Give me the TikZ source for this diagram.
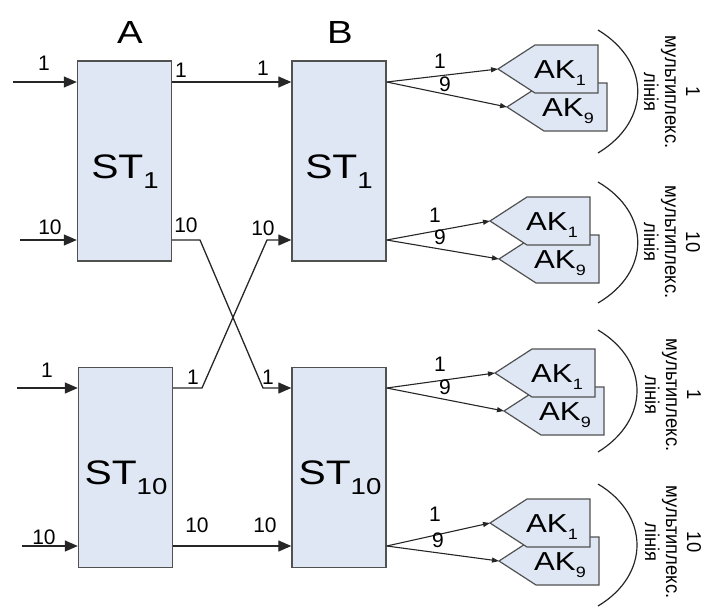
\documentclass[tikz,border=0pt]{standalone}
\usepackage{fontspec}
\setmainfont{Liberation Sans}
\newfontfamily\widesans[FakeStretch=1.2]{Liberation Sans}
\newfontfamily\narrowsans[FakeStretch=0.92]{Liberation Sans}
\usepackage{graphicx}
\usetikzlibrary{arrows.meta,calc}
\definecolor{panel}{RGB}{222,231,243}
\definecolor{ink}{RGB}{38,38,38}
% lowered index in a given size
\newcommand\lowidx[2]{\raisebox{-0.3em}{\fontsize{#1}{#1}\selectfont #2}}

\begin{document}
\begin{tikzpicture}[x=1pt,y=-1pt,
  stbox/.style={draw=ink!80, fill=panel, line width=1.4pt, minimum width=94pt, minimum height=200pt, inner sep=0pt},
  wire/.style={draw=ink, line width=1.3pt},
  feed/.style={wire, -{Triangle[length=13pt,width=11pt]}},
  tap/.style={wire, line width=1.1pt, -{Triangle[length=7pt,width=5pt]}},
  num/.style={font=\fontsize{21}{21}\selectfont, inner sep=0pt},
  head/.style={font=\widesans\fontsize{32}{32}\selectfont, inner sep=0pt},
  sttext/.style={font=\widesans\fontsize{34}{34}\selectfont, inner sep=0pt, anchor=base},
  ak/.style={draw=ink!80, fill=panel, line width=1.2pt},
  aktext/.style={font=\widesans\fontsize{26}{26}\selectfont, inner sep=0pt, anchor=base},
  arcline/.style={draw=ink, line width=1.2pt},
  mux/.style={rotate=-90, align=center, font=\narrowsans\fontsize{20}{21}\selectfont, inner sep=0pt},
  akpair/.pic={
    % lower unit first, the upper one overlaps it
    \path[ak] (9,38) -- ++(37,-24) -- (109,14) -- (109,62) -- (46,62) -- cycle;
    \node[aktext] (-k9) at (70,47) {AK\lowidx{15}{9}};
    \path[ak] (0,0) -- (37,-24) -- (100,-24) -- (100,24) -- (37,24) -- cycle;
    \node[aktext] (-k1) at (62,9) {AK\lowidx{15}{1}};
    \coordinate (-t1) at (0,0);
    \coordinate (-t9) at (9,38);
  }
]
\useasboundingbox (0,0) rectangle (713,606);

% column headings
\node[head] (ha) at (130,32) {A};
\node[head] (hb) at (340,32) {B};

% switching stages
\node[stbox] (a1)  at (124.5,161) {};
\node[stbox] (b1)  at (339,161) {};
\node[stbox] (a10) at (125.5,467.5) {};
\node[stbox] (b10) at (339,467.5) {};
\node[sttext] (a1l)  at (125,178) {ST\lowidx{23}{1}};
\node[sttext] (b1l)  at (339,178) {ST\lowidx{23}{1}};
\node[sttext] (a10l) at (126,484) {ST\lowidx{23}{10}};
\node[sttext] (b10l) at (340,484) {ST\lowidx{23}{10}};

% inputs of stage A
\coordinate (ia1)  at (13,82);
\coordinate (ia10) at (20,240);
\coordinate (ib1)  at (17,388);
\coordinate (ib10) at (22,546);
\draw[feed] (ia1)  -- (ia1 -| a1.west);
\draw[feed] (ia10) -- (ia10 -| a1.west);
\draw[feed] (ib1)  -- (ib1 -| a10.west);
\draw[feed] (ib10) -- (ib10 -| a10.west);
\node[num] (n1) at (44,63)  {1};
\node[num] (n2) at (50,227) {10};
\node[num] (n3) at (47,370) {1};
\node[num] (n4) at (44,537) {10};

% links A -> B
\coordinate (k1) at (200,240);
\coordinate (k2) at (263,388);
\coordinate (k3) at (202,388);
\coordinate (k4) at (267,240);
\draw[feed] (a1.east |- ia1) -- (b1.west |- ia1);
\draw[feed] (a1.east |- k1) -- (k1) -- (k2) -- (k2 -| b10.west);
\draw[feed] (a10.east |- k3) -- (k3) -- (k4) -- (k4 -| b1.west);
\draw[feed] (a10.east |- ib10) -- (b10.west |- ib10);
\node[num] (o1)  at (181,70)  {1};
\node[num] (o2)  at (263,68)  {1};
\node[num] (o3)  at (186,225) {10};
\node[num] (o4)  at (263,228) {10};
\node[num] (o5)  at (193,377) {1};
\node[num] (o6)  at (268,377) {1};
\node[num] (o7)  at (197,525) {10};
\node[num] (o8)  at (265,525) {10};

% subscriber units on the outputs of stage B
\pic (g1) at (498,69)  {akpair};
\pic (g2) at (490,221) {akpair};
\pic (g3) at (495,373) {akpair};
\pic (g4) at (490,523) {akpair};

\draw[tap] (b1.east |- ia1)  -- (g1-t1);
\draw[tap] (b1.east |- ia1)  -- (g1-t9);
\draw[tap] (b1.east |- ia10) -- (g2-t1);
\draw[tap] (b1.east |- ia10) -- (g2-t9);
\draw[tap] (b10.east |- ib1)  -- (g3-t1);
\draw[tap] (b10.east |- ib1)  -- (g3-t9);
\draw[tap] (b10.east |- ib10) -- (g4-t1);
\draw[tap] (b10.east |- ib10) -- (g4-t9);

\node[num] (p1) at (440,61)  {1};
\node[num] (q1) at (445,84)  {9};
\node[num] (p2) at (435,215) {1};
\node[num] (q2) at (440,237) {9};
\node[num] (p3) at (440,364) {1};
\node[num] (q3) at (445,387) {9};
\node[num] (p4) at (435,514) {1};
\node[num] (q4) at (438,540) {9};

% multiplex lines
\draw[arcline] (598,30)  .. controls (651,62)  and (651,121) .. (598,153);
\draw[arcline] (598,182) .. controls (651,213) and (651,272) .. (598,303);
\draw[arcline] (598,330) .. controls (650,361) and (650,420) .. (598,452);
\draw[arcline] (598,484) .. controls (650,515) and (650,575) .. (598,606);
\node[mux] (m1) at (672,92)  {1\\мультиплекс.\\лінія};
\node[mux] (m2) at (672,242) {10\\мультиплекс.\\лінія};
\node[mux] (m3) at (673,395) {1\\мультиплекс.\\лінія};
\node[mux] (m4) at (673,542) {10\\мультиплекс.\\лінія};
\end{tikzpicture}
\end{document}
